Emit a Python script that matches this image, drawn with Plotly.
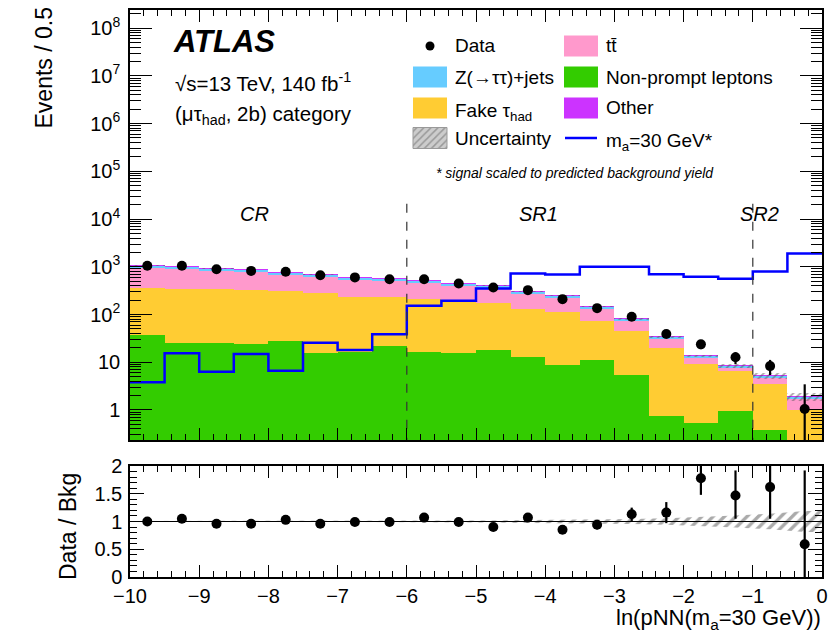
import numpy as np
import plotly.graph_objects as go

# ---------------- data ----------------
bin_edges = [-10.0 + 0.5 * i for i in range(21)]
bin_centers = [-9.75 + 0.5 * i for i in range(20)]

nonprompt = [37, 25, 25.6, 24, 28, 15.8, 16.3, 21.8, 16.5, 15.3, 18, 13, 8.8, 11, 5.4, 0.75, 0.53, 0.97, 0.38, 0.1]
fake_tau = [325, 315, 309, 301, 285, 261, 219, 208, 200, 169, 158, 115, 105, 62, 40, 18.8, 8.7, 5.5, 3.2, 0.9]
ttbar = [603, 570, 511, 458, 392, 356, 314, 277, 261, 230, 197, 152, 109, 59, 28, 11.4, 3.1, 1.3, 1.2, 0.68]
ztautau = [93, 87, 81, 75, 68, 61, 52, 49, 46, 40, 36, 27.5, 22, 13, 7.2, 3.0, 1.2, 0.75, 0.45, 0.22]
other = [3, 3, 2.7, 2.5, 2.3, 2, 1.8, 1.6, 1.5, 1.3, 1.2, 0.9, 0.6, 0.3, 0.15, 0.05, 0.02, 0.01, 0.005, 0.003]
unc_rel = [0.01, 0.01, 0.01, 0.01, 0.01, 0.01, 0.01, 0.01, 0.015, 0.015, 0.02, 0.02, 0.025, 0.03, 0.04, 0.05, 0.07, 0.10, 0.13, 0.20]

signal = [3.8, 15.4, 6.3, 14.9, 6.6, 25.6, 18, 38.4, 152, 194, 352, 724, 690, 1000, 1000, 700, 617, 560, 800, 1900]

data = [1050, 1050, 890, 820, 790, 667, 600, 550, 550, 448, 369, 324, 210, 136, 90, 39, 23.7, 12.7, 8.3, 1.05]
data_err_up = [32, 32, 30, 29, 28, 26, 24, 23, 23, 21, 19, 18, 14.5, 11.7, 9.5, 6.2, 4.9, 3.6, 2.9, 2.4]
data_err_dn = [32, 32, 30, 29, 28, 26, 24, 23, 23, 21, 19, 18, 14.5, 11.7, 9.5, 6.2, 4.9, 3.6, 2.9, 1.0]

ratio = [1.0, 1.05, 0.96, 0.96, 1.03, 0.96, 0.99, 0.99, 1.07, 0.99, 0.90, 1.07, 0.85, 0.94, 1.13, 1.16, 1.78, 1.47, 1.62, 0.59]
ratio_err_up = [0.03, 0.03, 0.03, 0.03, 0.04, 0.04, 0.04, 0.04, 0.04, 0.05, 0.05, 0.06, 0.06, 0.08, 0.12, 0.19, 0.30, 0.45, 0.55, 1.33]
ratio_err_dn = [0.03, 0.03, 0.03, 0.03, 0.04, 0.04, 0.04, 0.04, 0.04, 0.05, 0.05, 0.06, 0.06, 0.08, 0.12, 0.19, 0.30, 0.42, 0.57, 0.59]
ratio_unc = [0.01, 0.01, 0.01, 0.01, 0.01, 0.01, 0.01, 0.01, 0.015, 0.015, 0.02, 0.025, 0.03, 0.035, 0.045, 0.06, 0.08, 0.11, 0.14, 0.19]

region_lines = [-6, -1]
region_labels = ["CR", "SR1", "SR2"]
region_label_x = [-8.2, -4.1, -0.9]

# ---------------- styling ----------------
W, H = 831, 636
FONT = "Liberation Sans"
C_Z = "#66ccff"
C_FAKE = "#ffcc33"
C_TT = "#ff99cc"
C_NP = "#33cc00"
C_OTHER = "#cc33ff"
C_SIG = "#0000ff"


def px(x):
    return x / W


def py(y):
    return 1 - y / H


fig = go.Figure()

# stacked background components
comps = [(nonprompt, C_NP), (fake_tau, C_FAKE), (ttbar, C_TT), (ztautau, C_Z), (other, C_OTHER)]
cum = np.zeros(20)
for vals, col in comps:
    vals = np.array(vals, dtype=float)
    kw = {} if cum.sum() == 0 else {"base": cum.copy()}
    fig.add_trace(go.Bar(x=bin_centers, y=vals, width=0.5, marker=dict(color=col, line=dict(width=0)),
                         showlegend=False, xaxis="x", yaxis="y", **kw))
    cum = cum + vals
total = cum
unc = total * np.array(unc_rel)

fig.add_trace(go.Bar(x=bin_centers, y=2 * unc, base=total - unc, width=0.5,
                     marker=dict(color="rgba(0,0,0,0)", line=dict(width=0),
                                 pattern=dict(shape="/", fgcolor="#555555", bgcolor="rgba(0,0,0,0)",
                                              size=5, solidity=0.35)),
                     showlegend=False, xaxis="x", yaxis="y"))

# signal
fig.add_trace(go.Scatter(x=bin_edges, y=signal + [signal[-1]], mode="lines", line=dict(color=C_SIG, width=2.5, shape="hv"),
                         showlegend=False, xaxis="x", yaxis="y"))

# region lines
for xl in region_lines:
    fig.add_trace(go.Scatter(x=[xl, xl], y=[2.1e4, 0.1], mode="lines", line=dict(color="#333333", width=1.2, dash="dash"),
                             showlegend=False, xaxis="x", yaxis="y"))

# data
fig.add_trace(go.Scatter(x=bin_centers, y=data, mode="markers", marker=dict(color="black", size=10),
                         error_y=dict(type="data", array=data_err_up, arrayminus=data_err_dn, color="black", thickness=2.2, width=0),
                         showlegend=False, xaxis="x", yaxis="y"))

# ratio panel: uncertainty wedge through bin centres
band_x = [bin_edges[0]] + bin_centers + [bin_edges[-1]]
band_u = [ratio_unc[0]] + ratio_unc + [ratio_unc[-1]]
poly_x = band_x + band_x[::-1]
poly_y = [1 + u for u in band_u] + [1 - u for u in band_u[::-1]]
fig.add_trace(go.Scatter(x=poly_x, y=poly_y, mode="lines", fill="toself", line=dict(width=0, color="rgba(0,0,0,0)"),
                         fillcolor="rgba(0,0,0,0)",
                         fillpattern=dict(shape="/", fgcolor="#555555", bgcolor="rgba(0,0,0,0)", size=8, solidity=0.42),
                         showlegend=False, hoverinfo="skip", xaxis="x2", yaxis="y2"))
fig.add_trace(go.Scatter(x=[-10, 0], y=[1, 1], mode="lines", line=dict(color="black", width=1),
                         showlegend=False, xaxis="x2", yaxis="y2"))
fig.add_trace(go.Scatter(x=bin_centers, y=ratio, mode="markers", marker=dict(color="black", size=10),
                         error_y=dict(type="data", array=ratio_err_up, arrayminus=ratio_err_dn, color="black", thickness=2.2, width=0),
                         cliponaxis=True, showlegend=False, xaxis="x2", yaxis="y2"))

# ---------------- manual legend (overlay axis in pixel units) ----------------
def box(x0, y0, x1, y1, color, pattern=None, line="rgba(0,0,0,0)"):
    kw = {}
    if pattern:
        kw["fillpattern"] = pattern
    fig.add_trace(go.Scatter(x=[x0, x1, x1, x0, x0], y=[y0, y0, y1, y1, y0], mode="lines", fill="toself",
                             fillcolor=color, line=dict(color=line, width=1), showlegend=False,
                             hoverinfo="skip", xaxis="x3", yaxis="y3", **kw))

rows = [46, 77, 108, 138]
c1x, c2x = 413, 564
bw, bh = 34, 21
box(c1x, rows[1] - bh / 2, c1x + bw, rows[1] + bh / 2, C_Z)
box(c1x, rows[2] - bh / 2, c1x + bw, rows[2] + bh / 2, C_FAKE)
box(c1x, rows[3] - bh / 2, c1x + bw, rows[3] + bh / 2, "#bbbbbb",
    pattern=dict(shape="/", fgcolor="#666666", bgcolor="#cccccc", size=5, solidity=0.3), line="#999999")
box(c2x, rows[0] - bh / 2, c2x + bw, rows[0] + bh / 2, C_TT)
box(c2x, rows[1] - bh / 2, c2x + bw, rows[1] + bh / 2, C_NP)
box(c2x, rows[2] - bh / 2, c2x + bw, rows[2] + bh / 2, C_OTHER)
fig.add_trace(go.Scatter(x=[c2x + 1, c2x + bw - 1], y=[rows[3], rows[3]], mode="lines", line=dict(color=C_SIG, width=2.5),
                         showlegend=False, hoverinfo="skip", xaxis="x3", yaxis="y3"))
fig.add_trace(go.Scatter(x=[c1x + bw / 2], y=[rows[0]], mode="markers", marker=dict(color="black", size=9),
                         showlegend=False, hoverinfo="skip", xaxis="x3", yaxis="y3"))

ann = []


def text(x, y, s, size=18, xanchor="left", yanchor="middle", angle=0, color="black"):
    ann.append(dict(x=px(x), y=py(y), xref="paper", yref="paper", text=s, showarrow=False,
                    xanchor=xanchor, yanchor=yanchor, textangle=angle,
                    font=dict(family=FONT, size=size, color=color)))


tx1, tx2 = 453, 604
text(tx1, rows[0], "Data", size=19)
text(tx1, rows[1], "Z(→ττ)+jets", size=19)
text(tx1, rows[2] + 4, "Fake τ<sub>had</sub>", size=19)
text(tx1, rows[3], "Uncertainty", size=19)
text(tx2, rows[0], "tt\u0304", size=19)
text(tx2, rows[1], "Non-prompt leptons", size=19)
text(tx2, rows[2], "Other", size=19)
text(tx2, rows[3] + 4, "m<sub>a</sub>=30 GeV*", size=19)
text(434, 173, "<i>* signal scaled to predicted background yield</i>", size=14)

text(171, 42, "<b><i>ATLAS</i></b>", size=31)
text(173, 82, "√s=13 TeV, 140 fb<sup>-1</sup>", size=20.5)
text(173, 115, "(μτ<sub>had</sub>, 2b) category", size=20.5)

for lab, lx in zip(region_labels, region_label_x):
    ann.append(dict(x=lx, y=np.log10(1.25e4), xref="x", yref="y", text=f"<i>{lab}</i>", showarrow=False,
                    xanchor="center", yanchor="middle", font=dict(family=FONT, size=20, color="black")))

text(43, 6, "Events / 0.5", size=23, xanchor="center", yanchor="top", angle=-90)
text(68, 527, "Data / Bkg", size=23, xanchor="center", yanchor="middle", angle=-90)
text(823, 635, "ln(pNN(m<sub>a</sub>=30 GeV))", size=22, xanchor="right", yanchor="bottom")

# ---------------- layout ----------------
xdom = [px(130), px(822)]
axis_common = dict(showline=True, linecolor="black", linewidth=1.5, mirror="ticks", ticks="inside",
                   tickcolor="black", showgrid=False, zeroline=False, automargin=False,
                   tickfont=dict(family=FONT, size=20, color="black"))

fig.update_layout(
    width=W, height=H, margin=dict(l=0, r=0, t=0, b=0, pad=0, autoexpand=False),
    paper_bgcolor="white", plot_bgcolor="rgba(0,0,0,0)",
    barmode="overlay", bargap=0, showlegend=False,
    annotations=ann,
    xaxis=dict(domain=xdom, anchor="y", range=[-10, 0], dtick=1, ticklen=12, showticklabels=False,
               minor=dict(dtick=0.2, ticks="inside", ticklen=6, tickcolor="black", showgrid=False), **axis_common),
    yaxis=dict(domain=[py(440), py(10)], anchor="x", type="log", range=[np.log10(0.235), 8.38],
               tickvals=[1, 10, 1e2, 1e3, 1e4, 1e5, 1e6, 1e7, 1e8],
               ticktext=["1", "10", "10<sup>2</sup>", "10<sup>3</sup>", "10<sup>4</sup>", "10<sup>5</sup>",
                         "10<sup>6</sup>", "10<sup>7</sup>", "10<sup>8</sup>"],
               ticklen=22, ticklabelstandoff=4,
               minor=dict(dtick="D1", ticks="inside", ticklen=11, tickcolor="black", showgrid=False), **axis_common),
    xaxis2=dict(domain=xdom, anchor="y2", range=[-10, 0], dtick=1, ticklen=12,
                minor=dict(dtick=0.2, ticks="inside", ticklen=6, tickcolor="black", showgrid=False), **axis_common),
    yaxis2=dict(domain=[py(577), py(466)], anchor="x2", range=[0, 2],
                tickvals=[0, 0.5, 1, 1.5, 2], ticktext=["0", "0.5", "1", "1.5", "2"], ticklen=14, ticklabelstandoff=2,
                minor=dict(dtick=0.1, ticks="inside", ticklen=7, tickcolor="black", showgrid=False), **axis_common),
    xaxis3=dict(domain=[0, 1], anchor="y3", range=[0, W], visible=False, fixedrange=True, automargin=False),
    yaxis3=dict(domain=[0, 1], anchor="x3", range=[H, 0], visible=False, fixedrange=True, automargin=False),
)

fig.write_html("out.html")
